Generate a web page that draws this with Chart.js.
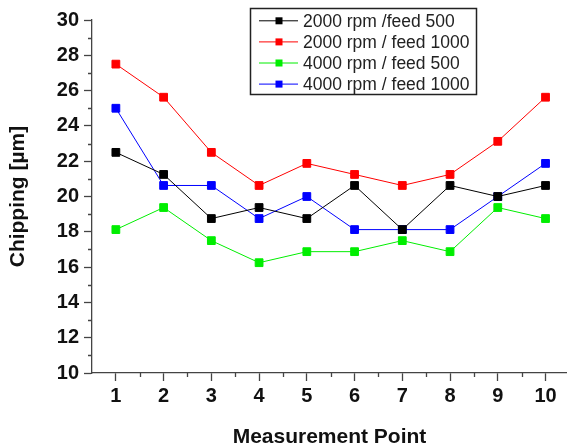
<!DOCTYPE html>
<html>
<head>
<meta charset="utf-8">
<script src="https://cdn.jsdelivr.net/npm/chart.js@4.4.1/dist/chart.umd.min.js"></script>
<style>
  body { margin: 0; background: #fff; }
  #wrap { width: 567px; height: 448px; }
</style>
</head>
<body>
<div id="wrap"><canvas id="myChart"></canvas></div>
<script>
const points = [1, 2, 3, 4, 5, 6, 7, 8, 9, 10];
const yTicks = [10, 12, 14, 16, 18, 20, 22, 24, 26, 28, 30];

const rpm2000feed500 = [22.5, 21.25, 18.75, 19.375, 18.75, 20.625, 18.125, 20.625, 20, 20.625];
const rpm2000feed1000 = [27.5, 25.625, 22.5, 20.625, 21.875, 21.25, 20.625, 21.25, 23.125, 25.625];
const rpm4000feed500 = [18.125, 19.375, 17.5, 16.25, 16.875, 16.875, 17.5, 16.875, 19.375, 18.75];
const rpm4000feed1000 = [25, 20.625, 20.625, 18.75, 20, 18.125, 18.125, 18.125, 20, 21.875];

const labels = ['2000 rpm /feed 500', '2000 rpm / feed 1000', '4000 rpm / feed 500', '4000 rpm / feed 1000'];
const colors = ['#000000', '#ff0000', '#00ee00', '#0000ff'];

function toXY(values) {
    return values.map((v, i) => ({x: points[i], y: v}));
}

function makeDataset(i, values) {
    return {
        label: labels[i],
        data: toXY(values),
        borderColor: colors[i],
        backgroundColor: colors[i],
        borderWidth: 1,
        pointStyle: 'rect',
        pointRadius: 5.5,
        pointBorderWidth: 1,
        tension: 0
    };
}

// minor ticks + boxed legend with line/marker samples
const extrasPlugin = {
    id: 'extras',
    afterDraw(chart) {
        const ctx = chart.ctx;
        const xs = chart.scales.x;
        const ys = chart.scales.y;
        const area = chart.chartArea;
        ctx.save();
        ctx.strokeStyle = '#444';
        ctx.lineWidth = 1.3;
        ctx.beginPath();
        for (let v = 11; v < 30; v += 2) {
            const py = Math.round(ys.getPixelForValue(v)) + 0.5;
            ctx.moveTo(area.left - 4, py);
            ctx.lineTo(area.left, py);
        }
        for (let v = 1.5; v < 10.5; v += 1) {
            const px = Math.round(xs.getPixelForValue(v)) + 0.5;
            ctx.moveTo(px, area.bottom);
            ctx.lineTo(px, area.bottom + 4);
        }
        ctx.stroke();

        // legend
        const lx = 250.5, ly = 8.5, lw = 226, lh = 86;
        ctx.fillStyle = '#fff';
        ctx.fillRect(lx, ly, lw, lh);
        ctx.strokeStyle = '#222';
        ctx.lineWidth = 1.5;
        ctx.strokeRect(lx, ly, lw, lh);
        ctx.font = '17.5px "Liberation Sans", Arial, sans-serif';
        ctx.textBaseline = 'middle';
        ctx.textAlign = 'left';
        chart.data.datasets.forEach((ds, i) => {
            const cy = 20.8 + i * 21.1;
            ctx.strokeStyle = ds.borderColor;
            ctx.lineWidth = 1;
            ctx.beginPath();
            ctx.moveTo(259, cy);
            ctx.lineTo(298, cy);
            ctx.stroke();
            ctx.fillStyle = ds.borderColor;
            ctx.fillRect(275.5, cy - 3.5, 7, 7);
            ctx.fillStyle = '#222';
            ctx.fillText(ds.label, 303, cy + 1);
        });
        ctx.restore();
    }
};

const tickFont = {family: '"Liberation Sans", Arial, sans-serif', size: 20, weight: 'bold'};
const titleFont = {family: '"Liberation Sans", Arial, sans-serif', size: 21, weight: 'bold', lineHeight: 1};

new Chart(document.getElementById('myChart'), {
    type: 'line',
    data: {
        datasets: [
            makeDataset(0, rpm2000feed500),
            makeDataset(1, rpm2000feed1000),
            makeDataset(2, rpm4000feed500),
            makeDataset(3, rpm4000feed1000)
        ]
    },
    options: {
        responsive: true,
        maintainAspectRatio: false,
        animation: false,
        layout: {autoPadding: false, padding: {top: 20, right: 0, bottom: 0, left: 0}},
        plugins: {
            legend: {display: false},
            tooltip: {enabled: false}
        },
        scales: {
            x: {
                type: 'linear',
                min: 0.5,
                max: 10.45,
                afterBuildTicks: (scale) => {
                    scale.ticks = points.map(v => ({value: v}));
                },
                afterFit: (scale) => { scale.height = 75; },
                ticks: {
                    color: '#111',
                    font: tickFont,
                    padding: 3,
                    maxRotation: 0
                },
                grid: {
                    drawOnChartArea: false,
                    tickLength: 8,
                    tickColor: '#444',
                    tickWidth: 1.3
                },
                border: {color: '#444', width: 1.3},
                title: {
                    display: true,
                    text: 'Measurement Point',
                    color: '#111',
                    font: titleFont,
                    padding: {top: 0, bottom: 0}
                }
            },
            y: {
                min: 10,
                max: 30,
                afterBuildTicks: (scale) => {
                    scale.ticks = yTicks.map(v => ({value: v}));
                },
                afterFit: (scale) => { scale.width = 92; },
                ticks: {
                    color: '#111',
                    font: tickFont,
                    padding: 5
                },
                grid: {
                    drawOnChartArea: false,
                    tickLength: 8,
                    tickColor: '#444',
                    tickWidth: 1.3
                },
                border: {color: '#444', width: 1.3},
                title: {
                    display: true,
                    text: 'Chipping [µm]',
                    color: '#111',
                    font: titleFont,
                    padding: {top: 7.5, bottom: 0}
                }
            }
        }
    },
    plugins: [extrasPlugin]
});
</script>
</body>
</html>
